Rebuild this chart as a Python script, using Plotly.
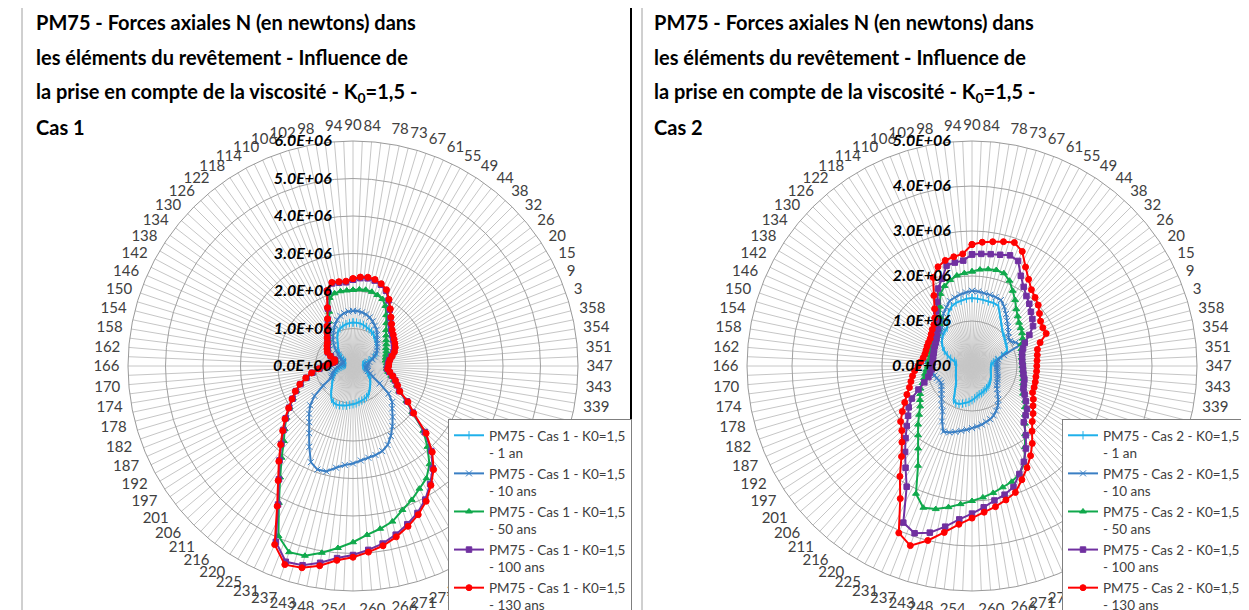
import plotly.graph_objects as go

# Category labels of the radar charts: angle (deg) of each lining element,
# clockwise from the crown. The label at the very bottom is not displayed.
ANGLE_LABELS = ['90', '84', '78', '73', '67', '61', '55', '49', '44', '38', '32', '26',
                '20', '15', '9', '3', '358', '354', '351', '347', '343', '339', '336',
                '331', '326', '321', '316', '311', '306', '301', '297', '292', '287',
                '282', '277', '271', '266', '260', '', '254', '248', '243', '237', '231',
                '225', '220', '216', '211', '206', '201', '197', '192', '187', '182',
                '178', '174', '170', '166', '162', '158', '154', '150', '146', '142',
                '138', '134', '130', '126', '122', '118', '114', '110', '106', '102',
                '98', '94']

AGES = ['1 an', '10 ans', '50 ans', '100 ans', '130 ans']
COLORS = ['#1fb0ea', '#3a7fc4', '#10a94c', '#7030a0', '#ff0000']
SYMBOLS = ['line-ns', 'x-thin', 'triangle-up', 'square', 'circle']
MARKER_SIZES = [6, 6, 6, 5.5, 6]

# Axial forces N, in units of 1E+06 N, one value per element (ANGLE_LABELS order)
cas1_1an = [1.16, 1.16, 1.15, 1.13, 1.10, 1.07, 1.04, 1.00, 0.95, 0.90,
            0.85, 0.80, 0.76, 0.72, 0.60, 0.45, 0.33, 0.28, 0.26, 0.27,
            0.30, 0.33, 0.37, 0.40, 0.43, 0.47, 0.53, 0.58, 0.63, 0.68,
            0.73, 0.80, 0.86, 0.90, 0.93, 0.95, 0.97, 1.00, 1.02, 1.04,
            1.07, 1.09, 1.11, 1.12, 1.10, 1.05, 0.95, 0.85, 0.76, 0.70,
            0.65, 0.60, 0.55, 0.50, 0.44, 0.38, 0.32, 0.27, 0.24, 0.22,
            0.21, 0.21, 0.22, 0.24, 0.30, 0.40, 0.50, 0.58, 0.65, 0.75,
            0.88, 1.00, 1.06, 1.10, 1.13, 1.15]
cas1_10ans = [1.47, 1.47, 1.45, 1.42, 1.37, 1.30, 1.22, 1.15, 1.05, 0.95,
              0.88, 0.82, 0.76, 0.70, 0.62, 0.55, 0.45, 0.40, 0.38, 0.38,
              0.36, 0.36, 0.38, 0.42, 0.50, 0.60, 0.85, 1.20, 1.42, 1.54,
              1.72, 1.92, 2.12, 2.30, 2.40, 2.45, 2.48, 2.53, 2.60, 2.65,
              2.75, 2.90, 2.92, 2.80, 2.45, 2.14, 1.90, 1.73, 1.55, 1.30,
              0.95, 0.65, 0.62, 0.58, 0.53, 0.48, 0.42, 0.38, 0.33, 0.30,
              0.28, 0.28, 0.30, 0.35, 0.42, 0.50, 0.62, 0.75, 0.87, 0.97,
              1.08, 1.20, 1.30, 1.38, 1.43, 1.46]
cas1_50ans = [2.03, 2.05, 2.06, 2.04, 2.00, 1.95, 1.82, 1.62, 1.45, 1.30,
              1.20, 1.12, 1.06, 1.00, 0.97, 0.93, 0.90, 0.88, 0.90, 0.90,
              0.90, 0.95, 1.05, 1.15, 1.27, 1.40, 1.70, 2.00, 2.55, 2.93,
              3.32, 3.58, 3.72, 3.90, 4.06, 4.28, 4.40, 4.52, 4.70, 4.87,
              5.05, 5.22, 5.25, 4.95, 4.15, 3.55, 3.10, 2.72, 2.48, 2.25,
              2.02, 1.82, 1.65, 1.48, 1.28, 1.10, 0.90, 0.74, 0.62, 0.53,
              0.48, 0.50, 0.62, 0.74, 0.80, 0.85, 0.90, 0.98, 1.08, 1.20,
              1.35, 1.58, 1.92, 2.00, 2.02, 2.02]
cas1_100ans = [2.30, 2.35, 2.37, 2.35, 2.29, 2.19, 1.99, 1.79, 1.62, 1.49,
               1.39, 1.33, 1.28, 1.24, 1.20, 1.14, 1.05, 0.98, 0.94, 0.93,
               0.91, 0.98, 1.08, 1.18, 1.28, 1.40, 1.72, 2.02, 2.60, 3.08,
               3.46, 3.76, 4.05, 4.28, 4.46, 4.64, 4.80, 4.92, 5.04, 5.14,
               5.32, 5.48, 5.52, 5.12, 4.20, 3.61, 3.19, 2.82, 2.52, 2.27,
               2.03, 1.83, 1.66, 1.48, 1.28, 1.10, 0.90, 0.74, 0.63, 0.54,
               0.49, 0.51, 0.64, 0.76, 0.81, 0.86, 0.91, 1.00, 1.11, 1.25,
               1.41, 1.67, 2.10, 2.27, 2.25, 2.24]
cas1_130ans = [2.33, 2.38, 2.40, 2.38, 2.32, 2.22, 2.02, 1.82, 1.65, 1.52,
               1.42, 1.36, 1.31, 1.27, 1.23, 1.17, 1.08, 1.00, 0.96, 0.95,
               0.93, 1.00, 1.10, 1.20, 1.30, 1.42, 1.75, 2.05, 2.65, 3.12,
               3.50, 3.80, 4.10, 4.33, 4.52, 4.70, 4.86, 4.98, 5.10, 5.20,
               5.40, 5.55, 5.60, 5.20, 4.25, 3.65, 3.22, 2.85, 2.55, 2.30,
               2.05, 1.85, 1.68, 1.50, 1.30, 1.12, 0.92, 0.75, 0.64, 0.55,
               0.50, 0.52, 0.66, 0.78, 0.83, 0.88, 0.93, 1.02, 1.13, 1.27,
               1.43, 1.70, 2.13, 2.30, 2.28, 2.27]

cas2_1an = [1.51, 1.50, 1.49, 1.48, 1.48, 1.46, 1.30, 1.18, 1.08, 1.01,
            0.97, 0.93, 0.90, 0.88, 0.85, 0.70, 0.55, 0.48, 0.44, 0.42,
            0.42, 0.42, 0.43, 0.44, 0.46, 0.48, 0.50, 0.52, 0.54, 0.56,
            0.58, 0.59, 0.60, 0.62, 0.64, 0.65, 0.68, 0.72, 0.76, 0.80,
            0.83, 0.86, 0.89, 0.90, 0.86, 0.70, 0.60, 0.52, 0.48, 0.45,
            0.43, 0.41, 0.39, 0.38, 0.37, 0.36, 0.36, 0.35, 0.35, 0.36,
            0.40, 0.50, 0.60, 0.70, 0.78, 0.85, 0.90, 0.95, 0.98, 1.01,
            1.15, 1.30, 1.40, 1.45, 1.47, 1.50]
cas2_10ans = [1.67, 1.66, 1.64, 1.63, 1.62, 1.60, 1.50, 1.38, 1.27, 1.18,
              1.10, 1.03, 1.01, 1.10, 1.16, 0.75, 0.60, 0.57, 0.56, 0.56,
              0.56, 0.57, 0.58, 0.60, 0.62, 0.64, 0.67, 0.70, 0.76, 0.84,
              0.95, 1.05, 1.13, 1.20, 1.25, 1.28, 1.32, 1.35, 1.38, 1.42,
              1.46, 1.51, 1.56, 1.59, 1.40, 1.20, 1.10, 1.00, 0.92, 0.86,
              0.81, 0.78, 0.80, 0.83, 0.86, 0.89, 0.92, 0.98, 1.03, 1.06,
              1.05, 1.04, 1.02, 0.98, 0.95, 0.95, 0.98, 1.02, 1.08, 1.20,
              1.33, 1.42, 1.53, 1.57, 1.61, 1.64]
cas2_50ans = [2.10, 2.15, 2.18, 2.20, 2.18, 2.07, 1.90, 1.75, 1.60, 1.50,
              1.42, 1.37, 1.33, 1.28, 1.20, 1.16, 1.14, 1.12, 1.12, 1.12,
              1.13, 1.15, 1.17, 1.20, 1.24, 1.29, 1.41, 1.49, 1.60, 1.74,
              1.92, 2.15, 2.45, 2.62, 2.72, 2.78, 2.86, 2.93, 3.00, 3.08,
              3.18, 3.28, 3.33, 3.10, 2.52, 2.19, 1.95, 1.77, 1.60, 1.46,
              1.38, 1.31, 1.25, 1.16, 1.10, 1.06, 1.02, 0.98, 0.96, 0.95,
              0.95, 0.96, 0.98, 1.00, 1.02, 1.03, 1.05, 1.12, 1.18, 1.30,
              1.50, 1.75, 1.88, 1.97, 2.04, 2.07]
cas2_100ans = [2.48, 2.50, 2.52, 2.55, 2.60, 2.55, 2.28, 2.10, 1.97, 1.88,
               1.78, 1.70, 1.62, 1.45, 1.28, 1.20, 1.15, 1.13, 1.12, 1.13,
               1.14, 1.16, 1.20, 1.22, 1.25, 1.33, 1.43, 1.55, 1.62, 1.70,
               1.95, 2.19, 2.42, 2.62, 2.84, 2.95, 3.03, 3.15, 3.28, 3.42,
               3.62, 3.82, 3.93, 3.80, 3.05, 2.70, 2.42, 2.18, 1.97, 1.80,
               1.68, 1.52, 1.30, 1.12, 1.00, 0.95, 0.90, 0.89, 0.88, 0.88,
               0.89, 0.90, 0.92, 0.94, 0.96, 1.00, 1.06, 1.12, 1.25, 1.45,
               1.62, 1.88, 2.05, 2.30, 2.33, 2.35]
cas2_130ans = [2.70, 2.76, 2.80, 2.85, 2.90, 2.78, 2.50, 2.30, 2.15, 2.07,
               2.00, 1.90, 1.82, 1.79, 1.80, 1.60, 1.50, 1.47, 1.45, 1.44,
               1.44, 1.44, 1.45, 1.46, 1.47, 1.55, 1.62, 1.72, 1.82, 1.97,
               2.18, 2.38, 2.57, 2.76, 2.97, 3.07, 3.17, 3.26, 3.38, 3.53,
               3.75, 4.00, 4.22, 4.05, 3.35, 2.93, 2.55, 2.30, 2.12, 2.01,
               1.85, 1.70, 1.58, 1.47, 1.40, 1.34, 1.28, 1.20, 1.14, 1.10,
               1.08, 1.08, 1.09, 1.10, 1.11, 1.15, 1.20, 1.25, 1.35, 1.52,
               1.78, 2.15, 2.33, 2.42, 2.46, 2.50]

CAS1 = [cas1_1an, cas1_10ans, cas1_50ans, cas1_100ans, cas1_130ans]
CAS2 = [cas2_1an, cas2_10ans, cas2_50ans, cas2_100ans, cas2_130ans]

TITLE_LINES = ['PM75 - Forces axiales N (en newtons) dans',
               'les éléments du revêtement - Influence de',
               'la prise en compte de la viscosité - K<sub>0</sub>=1,5 -']

# the page body has an 8px margin: the figure is sized to fill the rest of the
# window and all positions below are given in window pixels
OFF = 8
W, H = 1249 - OFF, 610 - OFF
FONT = 'Lato'


def fx(px):
    return (px - OFF) / W


def fy(py):
    return 1 - (py - OFF) / H


n = len(ANGLE_LABELS)
theta = [360.0 * k / n for k in range(n)]
# Excel draws a spoke between every labelled category
spokes = [180.0 * i / n for i in range(2 * n)]
spoke_text = [ANGLE_LABELS[i // 2] if i % 2 == 0 else '' for i in range(2 * n)]


def closed(v):
    return list(v) + [v[0]]


def polar_layout(x0, rmax):
    # x0 = left window pixel of the 450px square holding the radar
    return dict(
        domain=dict(x=[fx(x0), fx(x0 + 450)], y=[fy(591), fy(141)]),
        bgcolor='white',
        angularaxis=dict(type='linear', thetaunit='degrees', rotation=90,
                         direction='clockwise', tickmode='array',
                         tickvals=spokes, ticktext=spoke_text,
                         ticks='outside', ticklen=5, tickcolor='rgba(0,0,0,0)',
                         showgrid=True, gridcolor='#c6c6c6', gridwidth=1,
                         showline=True, linecolor='#9a9a9a', linewidth=1,
                         tickfont=dict(family=FONT, size=15, color='#404040')),
        radialaxis=dict(range=[0, rmax * 1e6], angle=90, side='counterclockwise',
                        tickmode='array',
                        tickvals=[v * 1e6 for v in range(rmax + 1)],
                        ticktext=['%.1fE+06' % v if v else '0.0E+00'
                                  for v in range(rmax + 1)],
                        showline=False, ticks='outside', ticklen=15,
                        tickcolor='rgba(0,0,0,0)', tickangle=90,
                        gridcolor='#a0a0a0', gridwidth=1,
                        tickfont=dict(family=FONT, size=16, color='black',
                                      weight='bold', style='italic')),
    )


fig = go.Figure()
for cas, data, polar, legend in [(1, CAS1, 'polar', 'legend'),
                                 (2, CAS2, 'polar2', 'legend2')]:
    for vals, age, col, sym, ms in zip(data, AGES, COLORS, SYMBOLS, MARKER_SIZES):
        fig.add_trace(go.Scatterpolar(
            r=closed([v * 1e6 for v in vals]), theta=closed(theta),
            subplot=polar, legend=legend, mode='lines+markers',
            name='PM75 - Cas %d - K0=1,5<br>- %s' % (cas, age),
            line=dict(color=col, width=2),
            marker=dict(symbol=sym, size=ms, color=col, line=dict(color=col, width=1)),
        ))

legend_style = dict(bgcolor='white', bordercolor='#7f7f7f', borderwidth=1,
                    font=dict(family=FONT, size=13.5, color='#404040'),
                    xanchor='left', yanchor='top', y=fy(419),
                    valign='top', itemwidth=30, tracegroupgap=0)

annotations = []
for x0, cas in [(34, 1), (652, 2)]:
    for i, txt in enumerate(TITLE_LINES + ['Cas %d' % cas]):
        annotations.append(dict(
            text=txt, x=fx(x0), y=fy(22 + 35 * i), xref='paper', yref='paper',
            xanchor='left', yanchor='middle', showarrow=False,
            font=dict(family=FONT, size=20, color='black', weight='bold')))

# table frame and chart borders
shapes = [
    dict(type='line', x0=fx(631), x1=fx(631), y0=0, y1=1, line=dict(color='black', width=2)),
    dict(type='line', x0=fx(22), x1=fx(22), y0=0, y1=1, line=dict(color='#a0a0a0', width=1)),
    dict(type='line', x0=fx(642), x1=fx(642), y0=0, y1=1, line=dict(color='#a0a0a0', width=1)),
]
for shp in shapes:
    shp.update(xref='paper', yref='paper', layer='above')

fig.update_layout(
    width=W, height=H,
    margin=dict(l=0, r=0, t=0, b=0, autoexpand=False),
    paper_bgcolor='white',
    polar=polar_layout(128, 6),
    polar2=polar_layout(747, 5),
    legend=dict(x=fx(448), **legend_style),
    legend2=dict(x=fx(1062), **legend_style),
    annotations=annotations,
    shapes=shapes,
    showlegend=True,
)

fig.write_html('out.html')
